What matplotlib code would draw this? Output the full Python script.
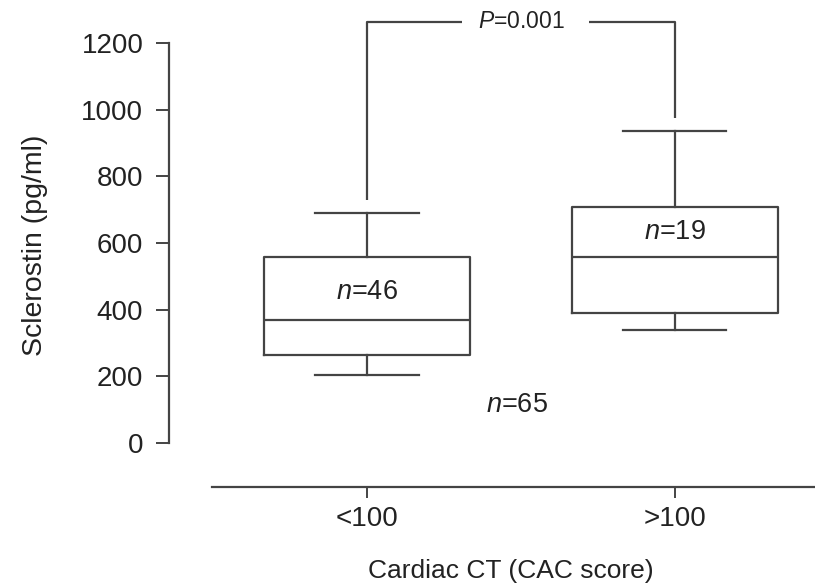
import matplotlib
matplotlib.use("Agg")
import matplotlib.pyplot as plt

plt.rcParams["font.family"] = ["Liberation Sans", "DejaVu Sans"]
plt.rcParams["mathtext.fontset"] = "custom"
plt.rcParams["mathtext.rm"] = "Liberation Sans"
plt.rcParams["mathtext.it"] = "Liberation Sans:italic"

# groups and box summary values (pg/ml)
groups = ["<100", ">100"]
whisker_low = [204, 339]
q1 = [264, 390]
median = [369, 558]
q3 = [558, 708]
whisker_high = [690, 936]
group_n = [46, 19]
n_label_y = [453, 633]

total_n = 65
total_n_pos = (0.487, 114)

# significance bracket
p_text = "0.001"
bracket_top = 1263
bracket_drop = [729, 975]

yticks = [0, 200, 400, 600, 800, 1000, 1200]

line_col = "#444444"
text_col = "#222222"

fig = plt.figure(figsize=(8.15, 5.87), dpi=100)
ax = fig.add_axes([169 / 815, 1 - 487 / 587, 1 - 169 / 815, 487 / 587])

stats = []
for i, g in enumerate(groups):
    stats.append(dict(label=g, whislo=whisker_low[i], q1=q1[i], med=median[i],
                      q3=q3[i], whishi=whisker_high[i], fliers=[]))

lp = dict(color=line_col, linewidth=1.6)
ax.bxp(stats, positions=[0, 1], widths=0.67, capwidths=0.335,
       showfliers=False, boxprops=lp, medianprops=lp,
       whiskerprops=lp, capprops=lp)

for i in range(len(groups)):
    ax.text(i, n_label_y[i], r"$\it{n}$=%d" % group_n[i], ha="center",
            va="center", fontsize=19.5, color=text_col)
ax.text(total_n_pos[0], total_n_pos[1], r"$\it{n}$=%d" % total_n,
        ha="center", va="center", fontsize=19.5, color=text_col)

# bracket with a gap for the P value
ax.plot([0, 0, 0.31], [bracket_drop[0], bracket_top, bracket_top],
        color=line_col, lw=1.6, solid_capstyle="butt")
ax.plot([0.72, 1, 1], [bracket_top, bracket_top, bracket_drop[1]],
        color=line_col, lw=1.6, solid_capstyle="butt")
ax.text(0.5, bracket_top, r"$\it{P}$=" + p_text, ha="center", va="center",
        fontsize=16.5, color=text_col)

ax.set_xlim(-0.643, 1.455)
ax.set_ylim(-132, 1329)

for s in ["top", "right"]:
    ax.spines[s].set_visible(False)
ax.spines["left"].set_bounds(0, 1200)
ax.spines["bottom"].set_bounds(-0.503, 1.455)
for s in ["left", "bottom"]:
    ax.spines[s].set_color(line_col)
    ax.spines[s].set_linewidth(1.6)

ax.set_yticks(yticks)
ax.set_xticks([0, 1])
ax.set_xticklabels(groups)
ax.tick_params(axis="y", length=9.5, width=1.4, pad=9, labelsize=20,
               color=line_col, labelcolor=text_col)
ax.tick_params(axis="x", length=8, width=1.4, pad=6, labelsize=20,
               color=line_col, labelcolor=text_col)

fig.text(35 / 815, 1 - 245 / 587, "Sclerostin (pg/ml)", rotation=90,
         ha="center", va="center", fontsize=20.5, color=text_col)
fig.text(511 / 815, 1 - 571 / 587, "Cardiac CT (CAC score)", ha="center",
         va="center", fontsize=19, color=text_col)

fig.savefig("out.png", dpi=100)
